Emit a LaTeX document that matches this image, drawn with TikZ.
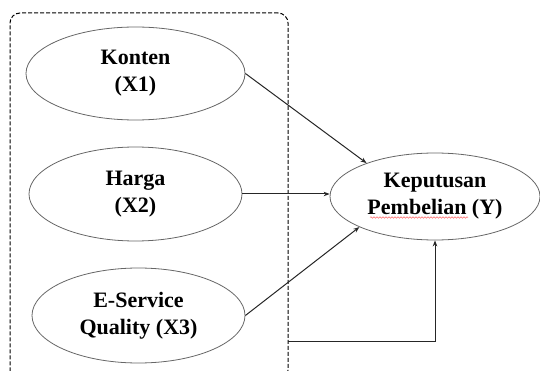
\documentclass[tikz,border=0pt]{standalone}
\usepackage{fontspec}
\setmainfont{Liberation Serif}
\usetikzlibrary{shapes.geometric,arrows.meta,decorations.pathmorphing}

\begin{document}
\begin{tikzpicture}[x=1pt,y=-1pt,
  var/.style={ellipse, draw=black!60, line width=0.8pt, inner sep=0pt, align=center,
    font=\fontsize{22}{27}\selectfont\bfseries},
  link/.style={draw=black!85, line width=1pt, -{Stealth[length=6pt,width=4.5pt]}},
  group/.style={draw=black, line width=1pt, dash pattern=on 4pt off 2pt, rounded corners=10pt}]
  \clip (0,0) rectangle (540,371);

  % Group frame
  \node[group, minimum width=278pt, minimum height=367pt] (grp) at (149,196.5) {};
  \coordinate (out) at (288,341);

  % Variables
  \node[var, minimum width=219pt, minimum height=93pt] (k) at (135.5,73.5) {Konten\\(X1)};
  \node[var, minimum width=213pt, minimum height=94pt] (h) at (135.5,194) {Harga\\(X2)};
  \node[var, minimum width=213pt, minimum height=95pt] (e) at (138.5,315.5) {E-Service\\Quality (X3)};
  \node[var, minimum width=210pt, minimum height=87pt] (y) at (435,196.5) {Keputusan\\Pembelian (Y)};

  % Spell-check underline
  \draw[red!60, line width=0.5pt, decorate, decoration={snake, amplitude=0.8pt, segment length=3pt}]
    (370,217.5) -- (468,217.5);

  % Paths
  \draw[link] (k.east) -- (y.154);
  \draw[link] (h.east) -- (h.east -| y.west);
  \draw[link] (e.east) -- (y.202);
  \draw[link] (out) -| (y.south);
\end{tikzpicture}
\end{document}
